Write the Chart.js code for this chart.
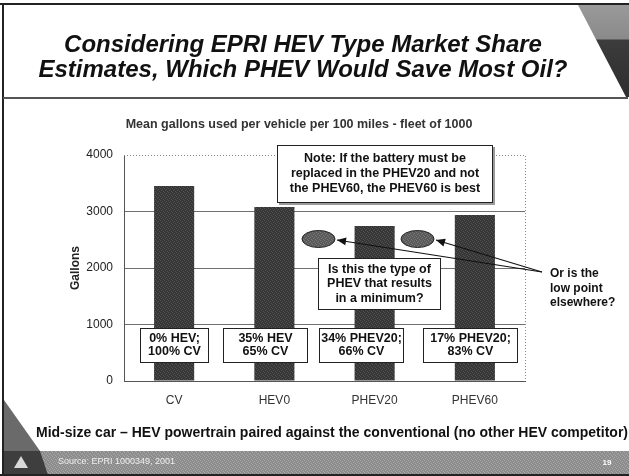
<!DOCTYPE html>
<html>
<head>
<meta charset="utf-8">
<script src="https://cdn.jsdelivr.net/npm/chart.js@4.4.1/dist/chart.umd.min.js"></script>
<style>
  html, body { margin: 0; padding: 0; background: #fff; }
  #wrap { width: 629px; height: 476px; position: relative; overflow: hidden; }
</style>
</head>
<body>
<div id="wrap"><canvas id="chart" width="629" height="476"></canvas></div>
<script>
// Data
const categories = ['CV', 'HEV0', 'PHEV20', 'PHEV60'];
const gallons = [3450, 3080, 2745, 2940];
const yTicks = [0, 1000, 2000, 3000, 4000];
const shareLabels = [['0% HEV;', '100% CV'], ['35% HEV', '65% CV'], ['34% PHEV20;', '66% CV'], ['17% PHEV20;', '83% CV']];
const noteLines = ['Note: If the battery must be', 'replaced in the PHEV20 and not', 'the PHEV60, the PHEV60 is best'];
const questionLines = ['Is this the type of', 'PHEV that results', 'in a minimum?'];
const elsewhereLines = ['Or is the', 'low point', 'elsewhere?'];

const titleLines = ['Considering EPRI HEV Type Market Share', 'Estimates, Which PHEV Would Save Most Oil?'];
const subtitle = 'Mean gallons used per vehicle per 100 miles - fleet of 1000';
const footNote = 'Mid-size car \u2013 HEV powertrain paired against the conventional (no other HEV competitor)';
const sourceText = 'Source: EPRI 1000349, 2001';
const pageNo = '19';

const FONT = 'Arial, "Liberation Sans", sans-serif';

// Share box placement (offset from bar centre, box width)
const shareBoxDx = [0, -9, -13, -4];
const shareBoxW = [69, 85, 85, 95];

const canvas = document.getElementById('chart');
const ctx = canvas.getContext('2d');

// dithered dark fill like the scanned bars
const makePattern = (base, spot) => {
    const c = document.createElement('canvas');
    c.width = 4; c.height = 4;
    const g = c.getContext('2d');
    g.fillStyle = base; g.fillRect(0, 0, 4, 4);
    g.fillStyle = spot;
    [[0, 0], [2, 1], [1, 2], [3, 3]].forEach(p => g.fillRect(p[0], p[1], 1, 1));
    return ctx.createPattern(c, 'repeat');
};
const barFill = makePattern('#363636', '#525252');

const txt = (g, s, x, y, font, color, align) => {
    g.font = font;
    g.fillStyle = color;
    g.textAlign = align || 'center';
    g.textBaseline = 'middle';
    g.fillText(s, x, y);
};

const box = (g, x, y, w, h, lines, lineH, shadow) => {
    if (shadow) {
        g.fillStyle = '#9a9a9a';
        g.fillRect(x + 2, y + 2, w, h);
    }
    g.fillStyle = '#fff';
    g.fillRect(x, y, w, h);
    g.strokeStyle = '#222';
    g.lineWidth = 1;
    g.strokeRect(x + 0.5, y + 0.5, w - 1, h - 1);
    const cy = y + h / 2 - (lines.length - 1) * lineH / 2;
    lines.forEach((l, i) => txt(g, l, x + w / 2, cy + i * lineH, 'bold 12.5px ' + FONT, '#111'));
};

const arrow = (g, x1, y1, x2, y2) => {
    g.strokeStyle = '#111';
    g.lineWidth = 1.2;
    g.beginPath(); g.moveTo(x1, y1); g.lineTo(x2, y2); g.stroke();
    const a = Math.atan2(y2 - y1, x2 - x1);
    const L = 9, W = 4;
    g.fillStyle = '#111';
    g.beginPath();
    g.moveTo(x2, y2);
    g.lineTo(x2 - L * Math.cos(a) + W * Math.sin(a), y2 - L * Math.sin(a) - W * Math.cos(a));
    g.lineTo(x2 - L * Math.cos(a) - W * Math.sin(a), y2 - L * Math.sin(a) + W * Math.cos(a));
    g.closePath(); g.fill();
};

// Slide decorations behind the chart
const slidePlugin = {
    id: 'slide',
    beforeDraw(chart) {
        const g = chart.ctx;
        const W = chart.width, H = chart.height;
        g.save();
        g.fillStyle = '#fff';
        g.fillRect(0, 0, W, H);

        // frame
        g.fillStyle = '#222';
        g.fillRect(0, 3, W, 2);
        g.fillRect(2, 3, 2, H - 3);
        g.fillStyle = '#555';
        g.fillRect(3, 97, W - 4, 2);

        // top right wedge
        const grd = g.createLinearGradient(0, 5, 0, 97);
        grd.addColorStop(0, '#9a9a9a');
        grd.addColorStop(0.37, '#8a8a8a');
        grd.addColorStop(0.38, '#3c3c3c');
        grd.addColorStop(1, '#2e2e2e');
        g.fillStyle = grd;
        g.beginPath();
        g.moveTo(578, 5); g.lineTo(W, 5); g.lineTo(W, 97); g.lineTo(626, 97);
        g.closePath(); g.fill();

        // title
        txt(g, titleLines[0], 303, 45, 'italic bold 24px ' + FONT, '#111');
        txt(g, titleLines[1], 303, 70, 'italic bold 24px ' + FONT, '#111');

        // subtitle
        txt(g, subtitle, 299, 125, 'bold 12.5px ' + FONT, '#333');

        // bottom left wedge
        g.fillStyle = '#6a6a6a';
        g.beginPath();
        g.moveTo(4, 400); g.lineTo(40, 451); g.lineTo(4, 451);
        g.closePath(); g.fill();

        // footnote
        txt(g, footNote, 332, 433, 'bold 14px ' + FONT, '#111');

        // footer band
        g.fillStyle = makePattern('#8c8c8c', '#a8a8a8');
        g.fillRect(4, 451, W - 4, 24);
        g.fillStyle = '#3e3e3e';
        g.beginPath();
        g.moveTo(4, 451); g.lineTo(40, 451); g.lineTo(48, 475); g.lineTo(4, 475);
        g.closePath(); g.fill();
        g.fillStyle = '#d8d8d8';
        g.beginPath();
        g.moveTo(21, 456); g.lineTo(28, 468); g.lineTo(14, 468);
        g.closePath(); g.fill();
        g.fillStyle = '#222';
        g.fillRect(0, 474, W, 2);
        txt(g, sourceText, 58, 462, '9px ' + FONT, '#eeeeee', 'left');
        txt(g, pageNo, 607, 463, 'bold 8px ' + FONT, '#ffffff');
        g.restore();
    },
    afterDatasetsDraw(chart) {
        const g = chart.ctx;
        const a = chart.chartArea;
        const x = chart.scales.x;
        g.save();

        // dotted top and right border of plot
        g.strokeStyle = '#888';
        g.lineWidth = 1;
        g.setLineDash([1, 2]);
        g.beginPath();
        g.moveTo(a.left, a.top + 0.5); g.lineTo(a.right + 0.5, a.top + 0.5);
        g.lineTo(a.right + 0.5, a.bottom);
        g.stroke();
        g.setLineDash([]);

        // share boxes on each bar
        shareLabels.forEach((lines, i) => {
            const cx = x.getPixelForValue(i) + shareBoxDx[i];
            const w = shareBoxW[i];
            box(g, Math.round(cx - w / 2), a.bottom - 53, w, 35, lines, 13, false);
        });

        // note and question boxes
        box(g, 277, 145, 216, 58, noteLines, 15, true);
        box(g, 318, 258, 123, 52, questionLines, 14.5, false);

        // ellipses
        [[318.5, 239], [417.5, 239]].forEach(p => {
            g.fillStyle = makePattern('#5a5a5a', '#787878');
            g.strokeStyle = '#222';
            g.lineWidth = 1;
            g.beginPath();
            g.ellipse(p[0], p[1], 16.5, 8.5, 0, 0, Math.PI * 2);
            g.fill(); g.stroke();
        });

        // arrows
        arrow(g, 542, 272, 337, 240);
        arrow(g, 542, 272, 436, 240);
        elsewhereLines.forEach((l, i) => txt(g, l, 550, 274 + i * 14.5, 'bold 12px ' + FONT, '#111', 'left'));
        g.restore();
    }
};

new Chart(ctx, {
    type: 'bar',
    data: {
        labels: categories,
        datasets: [{
            data: gallons,
            backgroundColor: barFill,
            borderWidth: 0,
            barPercentage: 0.4,
            categoryPercentage: 1.0
        }]
    },
    options: {
        responsive: false,
        animation: false,
        events: [],
        layout: { padding: { left: 64, top: 155, right: 104, bottom: 0 } },
        plugins: {
            legend: { display: false },
            tooltip: { enabled: false }
        },
        scales: {
            x: {
                grid: { display: false, drawTicks: false },
                border: { display: true, color: '#555', width: 1 },
                ticks: { color: '#333', padding: 12, font: { family: FONT, size: 12 } },
                afterFit: (s) => { s.height = 95; }
            },
            y: {
                min: yTicks[0],
                max: yTicks[yTicks.length - 1],
                afterBuildTicks: (s) => { s.ticks = yTicks.map(v => ({ value: v })); },
                grid: {
                    drawTicks: false,
                    color: (c) => (c.tick && (c.tick.value === 4000 || c.tick.value === 0)) ? 'rgba(0,0,0,0)' : '#707070',
                    lineWidth: 1
                },
                border: { display: true, color: '#555', width: 1 },
                ticks: {
                    color: '#222',
                    padding: 11,
                    font: { family: FONT, size: 12 },
                    callback: (v) => String(v)
                },
                title: {
                    display: true,
                    text: 'Gallons',
                    color: '#222',
                    padding: { top: 4, bottom: 0 },
                    font: { family: FONT, size: 12, weight: 'bold' }
                },
                afterFit: (s) => { s.width = 60; }
            }
        }
    },
    plugins: [slidePlugin]
});
</script>
</body>
</html>
